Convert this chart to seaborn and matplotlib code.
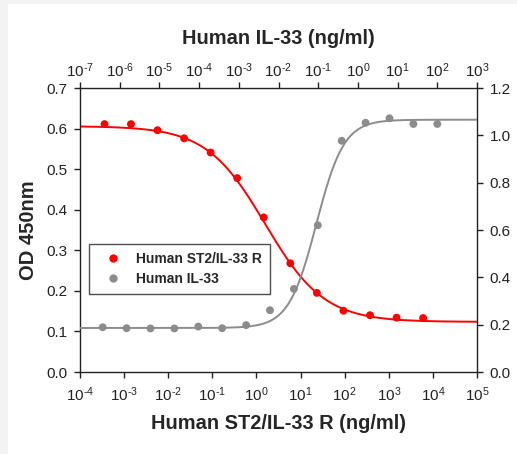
import numpy as np
import pandas as pd
import matplotlib
matplotlib.use("Agg")
import matplotlib.pyplot as plt
from matplotlib.lines import Line2D
from matplotlib.patches import Rectangle
from matplotlib.ticker import FuncFormatter, NullLocator, FormatStrFormatter
import seaborn as sns

# ---- data ----
st2_conc = [3.6e-4, 1.43e-3, 5.7e-3, 0.0229, 0.0916, 0.366, 1.46, 5.86, 23.4, 93.8, 375, 1500, 6000]
st2_od = [0.611, 0.611, 0.596, 0.576, 0.541, 0.478, 0.381, 0.268, 0.195, 0.151, 0.140, 0.134, 0.133]

il33_conc = [3.73e-7, 1.49e-6, 5.96e-6, 2.38e-5, 9.54e-5, 3.81e-4, 1.53e-3, 6.10e-3,
             0.0244, 0.0977, 0.391, 1.56, 6.25, 25.0, 100.0]
il33_od = [0.189, 0.185, 0.184, 0.184, 0.192, 0.185, 0.198, 0.261,
           0.351, 0.620, 0.977, 1.053, 1.072, 1.048, 1.048]

# 4-parameter logistic fit parameters (value at low conc, value at high conc, mid, hill)
st2_fit = dict(low=0.606, high=0.1235, mid=1.58, hill=0.65)
il33_fit = dict(low=0.186, high=1.066, mid=0.09, hill=1.25)

bottom_decades = list(range(-4, 6))
top_decades = list(range(-7, 4))
left_ticks = [0.0, 0.1, 0.2, 0.3, 0.4, 0.5, 0.6, 0.7]
right_ticks = [0.0, 0.2, 0.4, 0.6, 0.8, 1.0, 1.2]

labels = ["Human ST2/IL-33 R", "Human IL-33"]
bottom_xlabel = "Human ST2/IL-33 R (ng/ml)"
top_xlabel = "Human IL-33 (ng/ml)"
ylabel = "OD 450nm"


def four_pl(x, low, high, mid, hill):
    return high + (low - high) / (1.0 + (x / mid) ** hill)


def pow10_label(v, _pos):
    e = int(round(np.log10(v)))
    if e < 0:
        return r"$10^{\text{-}%d}$" % (-e)
    return r"$10^{%d}$" % e


sns.set_style("ticks")
plt.rcParams["font.family"] = ["Liberation Sans", "DejaVu Sans"]
plt.rcParams["mathtext.fontset"] = "custom"
plt.rcParams["mathtext.rm"] = "Liberation Sans"
plt.rcParams["mathtext.it"] = "Liberation Sans:italic"
plt.rcParams["mathtext.bf"] = "Liberation Sans:bold"
plt.rcParams["mathtext.default"] = "regular"
plt.rcParams["axes.unicode_minus"] = False

RED = "#ff0000"
GRAY = "#8c8c8c"

fig = plt.figure(figsize=(5.17, 4.54), dpi=100)
fig.patch.set_facecolor("white")
# faint grey border on top/left of the reference image
fig.patches.append(Rectangle((0, 0), 8 / 517, 1, transform=fig.transFigure,
                             facecolor="#f3f3f3", edgecolor="none", zorder=-10))
fig.patches.append(Rectangle((0, 1 - 4 / 454), 1, 4 / 454, transform=fig.transFigure,
                             facecolor="#f3f3f3", edgecolor="none", zorder=-10))

pos = [80 / 517, 1 - 372 / 454, 397 / 517, 284 / 454]
ax = fig.add_axes(pos)
ax2 = fig.add_axes(pos, frameon=False)
ax2.patch.set_visible(False)

# ST2 (bottom / left axes)
st2_df = pd.DataFrame({"conc": st2_conc, "od": st2_od})
xg1 = np.logspace(-4, 5, 400)
st2_curve = pd.DataFrame({"conc": xg1, "od": four_pl(xg1, **st2_fit)})
sns.lineplot(data=st2_curve, x="conc", y="od", ax=ax, color=RED, lw=1.4, zorder=2)
sns.scatterplot(data=st2_df, x="conc", y="od", ax=ax, color=RED, s=32,
                edgecolor="none", zorder=3)

# IL-33 (top / right axes)
il_df = pd.DataFrame({"conc": il33_conc, "od": il33_od})
xg2 = np.logspace(-7, 3, 400)
il_curve = pd.DataFrame({"conc": xg2, "od": four_pl(xg2, **il33_fit)})
sns.lineplot(data=il_curve, x="conc", y="od", ax=ax2, color=GRAY, lw=1.4, zorder=2)
sns.scatterplot(data=il_df, x="conc", y="od", ax=ax2, color=GRAY, s=32,
                edgecolor="none", zorder=3)

ax.set_xscale("log")
ax.set_xlim(1e-4, 1e5)
ax.set_ylim(0, 0.7)
ax.set_xticks([10.0 ** k for k in bottom_decades])
ax.xaxis.set_minor_locator(NullLocator())
ax.xaxis.set_major_formatter(FuncFormatter(pow10_label))
ax.set_yticks(left_ticks)
ax.yaxis.set_major_formatter(FormatStrFormatter("%.1f"))

ax2.set_xscale("log")
ax2.set_xlim(1e-7, 1e3)
ax2.set_ylim(0, 1.2)
ax2.set_xticks([10.0 ** k for k in top_decades])
ax2.xaxis.set_minor_locator(NullLocator())
ax2.xaxis.set_major_formatter(FuncFormatter(pow10_label))
ax2.set_yticks(right_ticks)
ax2.yaxis.set_major_formatter(FormatStrFormatter("%.1f"))
ax2.xaxis.tick_top()
ax2.xaxis.set_label_position("top")
ax2.yaxis.tick_right()
ax2.yaxis.set_label_position("right")

for a in (ax, ax2):
    a.tick_params(axis="both", which="major", direction="out", length=4, width=1,
                  labelsize=11, colors="#222222")
ax.tick_params(axis="x", pad=6)
ax.tick_params(axis="y", pad=5)
ax2.tick_params(axis="x", pad=2)
ax2.tick_params(axis="y", pad=5)

for s in ax.spines.values():
    s.set_visible(True)
    s.set_linewidth(1.0)
    s.set_color("#222222")

ax.set_xlabel(bottom_xlabel, fontsize=14.4, fontweight="bold", labelpad=6.5)
ax.set_ylabel(ylabel, fontsize=14.5, fontweight="bold", labelpad=6)
ax2.set_xlabel(top_xlabel, fontsize=14.4, fontweight="bold", labelpad=12)
ax2.set_ylabel("")

handles = [Line2D([], [], marker="o", ls="none", color=RED, markersize=6, markeredgewidth=0),
           Line2D([], [], marker="o", ls="none", color=GRAY, markersize=6, markeredgewidth=0)]
leg = ax2.legend(handles, labels, loc="lower left", bbox_to_anchor=(0.023, 0.275),
                 borderaxespad=0, frameon=True, fancybox=False,
                 prop={"weight": "bold", "size": 10}, handletextpad=0.45,
                 borderpad=0.55, labelspacing=0.45, handlelength=2.4)
leg.get_frame().set_edgecolor("#222222")
leg.get_frame().set_linewidth(1.0)

fig.savefig("out.png", dpi=100, facecolor=fig.get_facecolor())
